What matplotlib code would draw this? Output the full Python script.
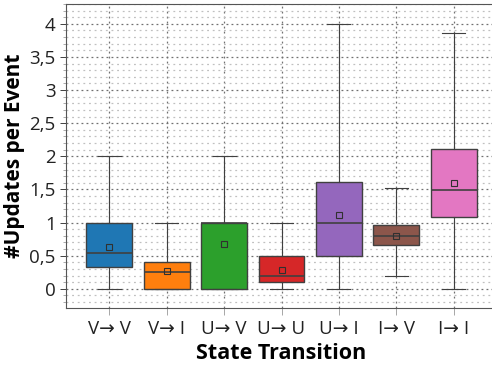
import matplotlib.pyplot as plt
import numpy as np
from matplotlib.ticker import MultipleLocator, FuncFormatter

plt.rcParams['font.family'] = ['Open Sans', 'DejaVu Sans']

transitions = ["V\u2192 V", "V\u2192 I", "U\u2192 V", "U\u2192 U", "U\u2192 I", "I\u2192 V", "I\u2192 I"]
whisker_low = [0.0, 0.0, 0.0, 0.0, 0.0, 0.2, 0.0]
q1 = [0.33, 0.0, 0.0, 0.11, 0.5, 0.66, 1.09]
median = [0.545, 0.25, 1.0, 0.2, 1.0, 0.79, 1.485]
q3 = [1.0, 0.4, 1.0, 0.5, 1.61, 0.96, 2.11]
whisker_high = [2.0, 1.0, 2.0, 1.0, 4.0, 1.52, 3.86]
means = [0.63, 0.27, 0.68, 0.28, 1.12, 0.8, 1.6]
colors = ["#1f77b4", "#ff7f0e", "#2ca02c", "#d62728", "#9467bd", "#8c564b", "#e377c2"]

stats = []
for i, name in enumerate(transitions):
    stats.append({"label": name, "whislo": whisker_low[i], "q1": q1[i], "med": median[i],
                  "q3": q3[i], "whishi": whisker_high[i], "mean": means[i], "fliers": []})

fig = plt.figure(figsize=(4.92, 3.71), dpi=100)
ax = fig.add_axes([66 / 492, 1 - 308 / 371, (497 - 66) / 492, (308 - 4) / 371])

edge = "#404040"
bp = ax.bxp(stats, positions=np.arange(len(stats)), widths=0.8, capwidths=0.4,
            patch_artist=True, showmeans=True,
            boxprops=dict(edgecolor=edge, linewidth=1.0),
            medianprops=dict(color=edge, linewidth=1.2),
            whiskerprops=dict(color=edge, linewidth=0.8),
            capprops=dict(color=edge, linewidth=0.8),
            meanprops=dict(marker="s", markersize=4, markerfacecolor="none",
                           markeredgecolor="#303030", markeredgewidth=0.8))
for patch, c in zip(bp["boxes"], colors):
    patch.set_facecolor(c)

ax.set_xlim(-0.75, 6.75)
ax.set_ylim(-0.29, 4.3)
ax.yaxis.set_major_locator(MultipleLocator(0.5))
ax.yaxis.set_minor_locator(MultipleLocator(0.1))
ax.yaxis.set_major_formatter(FuncFormatter(lambda v, p: ("%g" % v).replace(".", ",")))

ax.grid(True, which="major", axis="both", color="#707070", linestyle=(0, (1.5, 2.5)), linewidth=0.9)
ax.grid(True, which="minor", axis="y", color="#c0c0c0", linestyle=(0, (1.5, 3)), linewidth=0.9)
ax.set_axisbelow(True)

for s in ax.spines.values():
    s.set_color("#555555")
ax.tick_params(axis="both", which="major", labelsize=13.5, colors="#222222", length=4, width=0.6, direction="out")
ax.tick_params(axis="y", which="minor", length=2, width=0.5, color="#888888")
ax.tick_params(axis="x", which="major", length=5, color="#999999", pad=4)

ax.set_xticks(np.arange(len(transitions)), transitions)
ax.set_xlabel("State Transition", fontsize=15.5, fontweight="bold", labelpad=3)
ax.set_ylabel("#Updates per Event", fontsize=15, fontweight="bold", labelpad=3)

fig.savefig("out.png", dpi=100)
